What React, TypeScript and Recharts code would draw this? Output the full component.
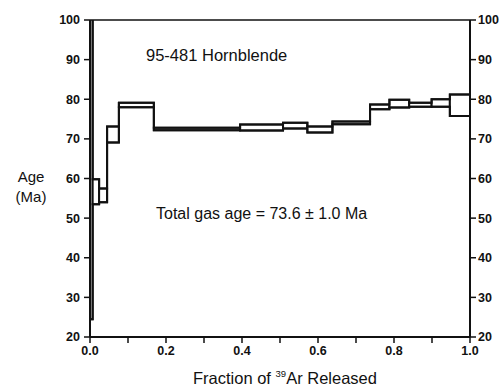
import { ComposedChart, Line, ReferenceArea, ReferenceLine, XAxis, YAxis } from "recharts";

// cumulative fraction of 39Ar released at the edge of each heating step
const fractionEdges = [
  0, 0.007, 0.024, 0.045, 0.076, 0.168, 0.395, 0.508, 0.572, 0.638, 0.737, 0.788, 0.84, 0.899, 0.947, 1.0,
];
// apparent age box for each step, lower and upper bound (Ma)
const ageLow = [24.5, 53.5, 54.0, 69.1, 78.0, 72.2, 72.1, 72.6, 71.6, 73.7, 77.5, 77.9, 78.1, 78.1, 75.8];
const ageHigh = [105, 59.8, 57.5, 73.1, 79.1, 72.8, 73.6, 74.1, 73.1, 74.4, 78.7, 79.9, 79.1, 80.0, 81.2];

const xTicks = [0, 0.1, 0.2, 0.3, 0.4, 0.5, 0.6, 0.7, 0.8, 0.9, 1.0];
const yTicks = [20, 30, 40, 50, 60, 70, 80, 90, 100];

const steps = ageLow.map((low, i) => ({
  x1: fractionEdges[i],
  x2: fractionEdges[i + 1],
  low,
  high: ageHigh[i],
}));

// stepped outlines, one point per edge (the last edge repeats the last step)
const outline = fractionEdges.map((x, i) => {
  const k = Math.min(i, ageLow.length - 1);
  return { x, low: ageLow[k], high: ageHigh[k] };
});

const FONT = "'Liberation Sans', Arial, sans-serif";
const INK = "#111";

const tickStyle = { fontSize: 12.5, fontWeight: 700, fill: INK, fontFamily: FONT };

function xLabel(v: number): string {
  const n = Math.round(v * 10);
  return n % 2 === 0 ? v.toFixed(1) : "";
}

export default function App() {
  return (
    <div style={{ position: "relative", width: 503, height: 386, background: "#fff" }}>
      <style>{`body{margin:0}`}</style>
      <ComposedChart
        width={503}
        height={386}
        data={outline}
        margin={{ top: 20, right: 0, bottom: 19, left: 50 }}
      >
        <XAxis
          type="number"
          dataKey="x"
          domain={[0, 1]}
          ticks={xTicks}
          tickFormatter={xLabel}
          allowDataOverflow
          height={30}
          tick={tickStyle}
          tickSize={6}
          tickMargin={3}
          axisLine={{ stroke: INK, strokeWidth: 2 }}
          tickLine={{ stroke: INK, strokeWidth: 1.5 }}
        />
        <YAxis
          yAxisId="left"
          type="number"
          domain={[20, 100]}
          ticks={yTicks}
          allowDataOverflow
          width={40}
          tick={tickStyle}
          tickSize={6}
          tickMargin={4}
          axisLine={{ stroke: INK, strokeWidth: 2 }}
          tickLine={{ stroke: INK, strokeWidth: 1.5 }}
        />
        <YAxis
          yAxisId="right"
          orientation="right"
          type="number"
          domain={[20, 100]}
          ticks={yTicks}
          allowDataOverflow
          width={33}
          tick={tickStyle}
          tickSize={6}
          tickMargin={2}
          axisLine={{ stroke: INK, strokeWidth: 2 }}
          tickLine={{ stroke: INK, strokeWidth: 1.5 }}
        />
        <ReferenceLine yAxisId="left" y={100} stroke={INK} strokeWidth={1.5} />
        {steps.map((s, i) => (
          <ReferenceArea
            key={i}
            yAxisId="left"
            x1={s.x1}
            x2={s.x2}
            y1={s.low}
            y2={s.high}
            ifOverflow="hidden"
            fill="#fff"
            fillOpacity={1}
            stroke={INK}
            strokeWidth={2}
          />
        ))}
        <Line
          yAxisId="left"
          type="stepAfter"
          dataKey="high"
          stroke={INK}
          strokeWidth={2}
          dot={false}
          activeDot={false}
          isAnimationActive={false}
        />
        <Line
          yAxisId="left"
          type="stepAfter"
          dataKey="low"
          stroke={INK}
          strokeWidth={2}
          dot={false}
          activeDot={false}
          isAnimationActive={false}
        />
      </ComposedChart>
      <svg
        width={503}
        height={386}
        style={{ position: "absolute", left: 0, top: 0, pointerEvents: "none" }}
        fontFamily={FONT}
        fill={INK}
      >
        <text x={146} y={61} fontSize={16.5}>
          95-481 Hornblende
        </text>
        <text x={156} y={219} fontSize={16}>
          Total gas age = 73.6 ± 1.0 Ma
        </text>
        <text x={31} y={182} fontSize={15} textAnchor="middle">
          Age
        </text>
        <text x={31} y={202} fontSize={15} textAnchor="middle">
          (Ma)
        </text>
        <text x={193} y={384} fontSize={16.5}>
          Fraction of{" "}
          <tspan fontSize={9.5} dy={-7}>
            39
          </tspan>
          <tspan dy={7}>Ar Released</tspan>
        </text>
      </svg>
    </div>
  );
}
